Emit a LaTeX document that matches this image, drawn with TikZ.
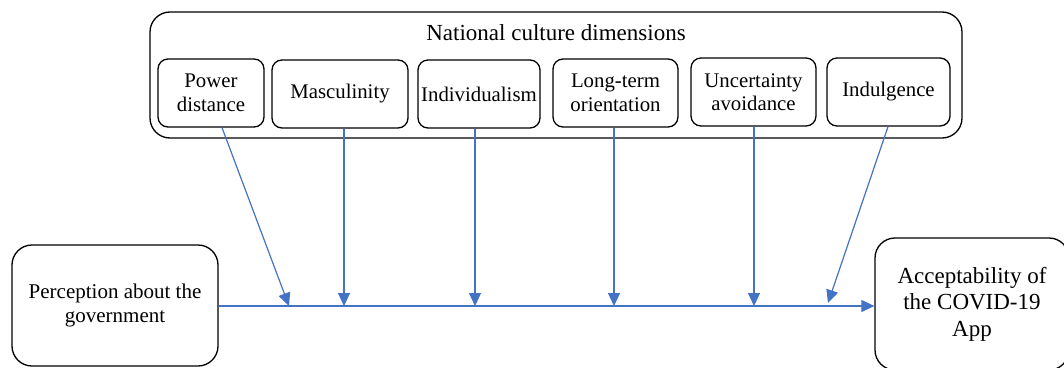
\documentclass[tikz,border=0pt]{standalone}
\usepackage{fontspec}
\setmainfont{Liberation Serif}
\usetikzlibrary{arrows.meta}
\definecolor{arrblue}{HTML}{4472C4}
\tikzset{
  dimbox/.style={draw=black, line width=1.3pt, rounded corners=10pt, align=center, inner sep=0pt,
    minimum height=68pt, font=\fontsize{20.8}{23.5}\selectfont},
  bigbox/.style={draw=black, line width=1.3pt, rounded corners=20pt, align=center, inner sep=0pt},
  conn/.style={draw=arrblue, line width=1.2pt, -{Triangle[width=12pt,length=13pt]}, arrblue},
}
\begin{document}
\begin{tikzpicture}[x=1pt,y=-1pt]
\useasboundingbox (0,0) rectangle (1064,367);
\clip (0,0) rectangle (1064,367);
% outer container
\node[bigbox, minimum width=812pt, minimum height=126pt] (outer) at (556,75) {};
\node[font=\fontsize{23}{25}\selectfont] (title) at (556,33) {National culture dimensions};
% dimensions
\node[dimbox, minimum width=106pt] (pd) at (211,93) {Power\\distance};
\node[dimbox, minimum width=136pt] (mas) at (340,94) {Masculinity};
\node[dimbox, minimum width=122pt] (ind) at (479,94) {Individualism};
\node[dimbox, minimum width=125pt] (lto) at (615.5,93) {Long-term\\orientation};
\node[dimbox, minimum width=125pt] (ua) at (753.5,92) {Uncertainty\\avoidance};
\node[dimbox, minimum width=123pt] (indu) at (888.5,92) {Indulgence};
% left and right
\node[bigbox, minimum width=206pt, minimum height=121pt, font=\fontsize{21}{23.5}\selectfont] (perc) at (115,305.5) {Perception about the\\government};
\node[bigbox, minimum width=194pt, minimum height=132pt, font=\fontsize{23}{26.5}\selectfont] (acc) at (972,304) {Acceptability of\\the COVID-19\\App};
% main line
\draw[conn] (perc.east |- 0,306) -- (acc.west |- 0,306);
% moderation points
\coordinate (m1) at (289,306);
\coordinate (m2) at (344,306);
\coordinate (m3) at (475,306);
\coordinate (m4) at (614,306);
\coordinate (m5) at (754,306);
\coordinate (m6) at (828,303);
\draw[conn] ([xshift=11pt]pd.south) -- (m1);
\draw[conn] (mas.south -| m2) -- (m2);
\draw[conn] (ind.south -| m3) -- (m3);
\draw[conn] (lto.south -| m4) -- (m4);
\draw[conn] (ua.south -| m5) -- (m5);
\draw[conn] ([xshift=-0.5pt]indu.south) -- (m6);
\end{tikzpicture}
\end{document}
